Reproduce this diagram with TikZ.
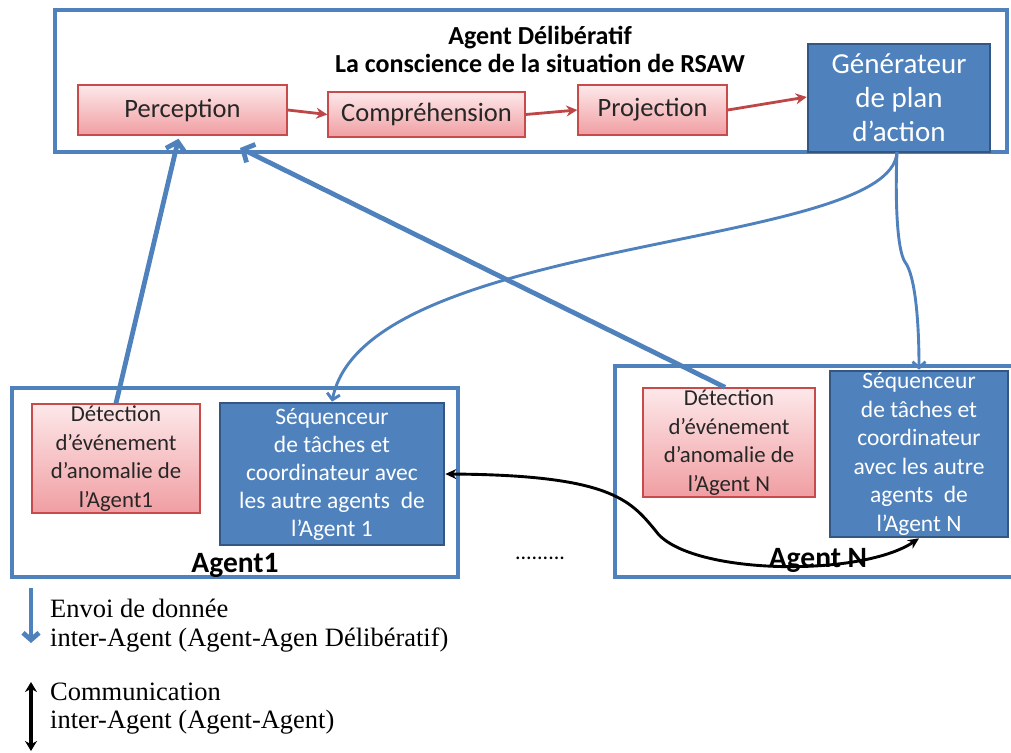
\documentclass[tikz,border=0pt]{standalone}
\usepackage{fontspec}
\setmainfont{Carlito}
\newfontfamily\legendfont{Liberation Serif}
\usetikzlibrary{arrows.meta,calc}
\definecolor{bluefill}{RGB}{79,129,189}
\definecolor{blueborder}{RGB}{52,86,130}
\definecolor{frameblue}{RGB}{79,129,189}
\definecolor{pinktop}{RGB}{253,232,234}
\definecolor{pinkbot}{RGB}{240,158,162}
\definecolor{redborder}{RGB}{200,75,75}
\definecolor{redarrow}{RGB}{190,70,70}
\tikzset{
  frame/.style={draw=frameblue,line width=3.3pt},
  pinkbox/.style={draw=redborder,line width=1.4pt,top color=pinktop,bottom color=pinkbot,
    inner sep=0pt,align=center,text=black!85},
  bluebox/.style={draw=blueborder,line width=2.6pt,fill=bluefill,inner sep=0pt,align=center,text=white},
  redarr/.style={draw=redarrow,line width=2.8pt,-{Stealth[length=11pt,width=11pt]}},
  bluethick/.style={draw=frameblue,line width=4.8pt,-{Straight Barb[length=9pt,width=20pt]}},
  bluethin/.style={draw=frameblue,line width=2.9pt,-{Straight Barb[length=6pt,width=13pt]}},
  blackarr/.style={draw=black,line width=2.9pt,{Stealth[length=11pt,width=10pt]}-{Stealth[length=11pt,width=10pt]}},
  lbl/.style={inner sep=0pt,font=\bfseries\fontsize{29.5}{32}\selectfont},
}
\begin{document}
\begin{tikzpicture}[x=1pt,y=-1pt]
\useasboundingbox (0,0) rectangle (1011,752);
\clip (0,0) rectangle (1011,752);
% frames
\draw[frame] (55,10) rectangle (1007,152);
\draw[frame] (12,388) rectangle (458,577);
\draw[frame] (615,366) rectangle (1020,577);
% title
\node[inner sep=0pt,font=\bfseries\fontsize{26}{28}\selectfont,align=center] (title) at (540,49)
  {Agent Délibératif\\La conscience de la situation de RSAW};
% top row
\node[pinkbox,minimum width=209pt,minimum height=50pt,font=\fontsize{26.5}{28}\selectfont] (perc) at (182.5,110) {Perception};
\node[pinkbox,minimum width=197pt,minimum height=45pt,font=\fontsize{26.5}{28}\selectfont] (comp) at (426.5,114.5) {Compréhension};
\node[pinkbox,minimum width=149pt,minimum height=50pt,font=\fontsize{26.5}{28}\selectfont] (proj) at (652.5,110) {Projection};
\node[bluebox,minimum width=182pt,minimum height=108pt,font=\fontsize{29}{34}\selectfont] (gen) at (899,98) {Générateur\\de plan\\d’action};
% agents
\node[pinkbox,minimum width=168pt,minimum height=109pt,font=\fontsize{22.8}{28.5}\selectfont] (det1) at (116,458.5)
  {Détection\\d’événement\\d’anomalie de\\l’Agent1};
\node[bluebox,minimum width=224pt,minimum height=142pt,font=\fontsize{23.5}{28}\selectfont] (seq1) at (332,474)
  {Séquenceur\\de tâches et\\coordinateur avec\\les autre agents\ \ de\\l’Agent 1};
\node[pinkbox,minimum width=172pt,minimum height=109pt,font=\fontsize{22.8}{28.5}\selectfont] (detN) at (729,442.5)
  {Détection\\d’événement\\d’anomalie de\\l’Agent N};
\node[bluebox,minimum width=178pt,minimum height=166pt,font=\fontsize{23.5}{28.5}\selectfont] (seqN) at (919,454)
  {Séquenceur\\de tâches et\\coordinateur\\avec les autre\\agents\ \ de\\l’Agent N};
\node[lbl] (ag1) at (235,565) {Agent1};
\node[inner sep=0pt,font=\fontsize{22}{24}\selectfont] (dots) at (540,558) {.........};
% red arrows
\draw[redarr] (perc.east) -- (comp.west);
\draw[redarr] (comp.east) -- (proj.west);
\draw[redarr] (proj.east) -- ($(gen.west)+(0,-1)$);
% blue arrows
\coordinate (percR) at (240,148);
\draw[bluethick] (det1.north) -- ($(perc.south)+(-4,3)$);
\draw[bluethick] ($(detN.north)+(-4,0)$) -- (percR);
\coordinate (genB) at (897,152);
\coordinate (kink) at (905,262);
\draw[bluethin] (genB) .. controls (892,250) and (365,235) .. (seq1.north);
\draw[bluethin] (genB) .. controls (895,200) and (897,250) .. (kink)
  .. controls (915,275) and (919,320) .. (seqN.north);
% black communication arrow
\coordinate (mid) at (655,530);
\draw[blackarr] (seq1.east) .. controls (610,475) and (630,500) .. (mid)
  .. controls (685,575) and (860,578) .. (seqN.south);
\node[lbl] (agN) at (818,560) {Agent N};
% legend
\coordinate (l1a) at (31,588);
\coordinate (l1b) at (31,643);
\draw[draw=frameblue,line width=4.8pt,-{Straight Barb[length=7pt,width=16pt]}] (l1a) -- (l1b);
\node[anchor=west,inner sep=0pt,font=\legendfont\fontsize{26.5}{30}\selectfont] (leg1a) at (50,608) {Envoi de donnée};
\node[anchor=west,inner sep=0pt,font=\legendfont\fontsize{26.5}{30}\selectfont] (leg1b) at (50,640) {inter-Agent (Agent-Agen Délibératif)};
\coordinate (l2a) at (31,682);
\coordinate (l2b) at (31,751);
\draw[draw=black,line width=3.8pt,{Stealth[length=10pt,width=12pt]}-{Stealth[length=10pt,width=12pt]}] (l2a) -- (l2b);
\node[anchor=west,inner sep=0pt,font=\legendfont\fontsize{26.5}{30}\selectfont] (leg2a) at (50,692) {Communication};
\node[anchor=west,inner sep=0pt,font=\legendfont\fontsize{26.5}{30}\selectfont] (leg2b) at (50,722) {inter-Agent (Agent-Agent)};
\end{tikzpicture}
\end{document}
